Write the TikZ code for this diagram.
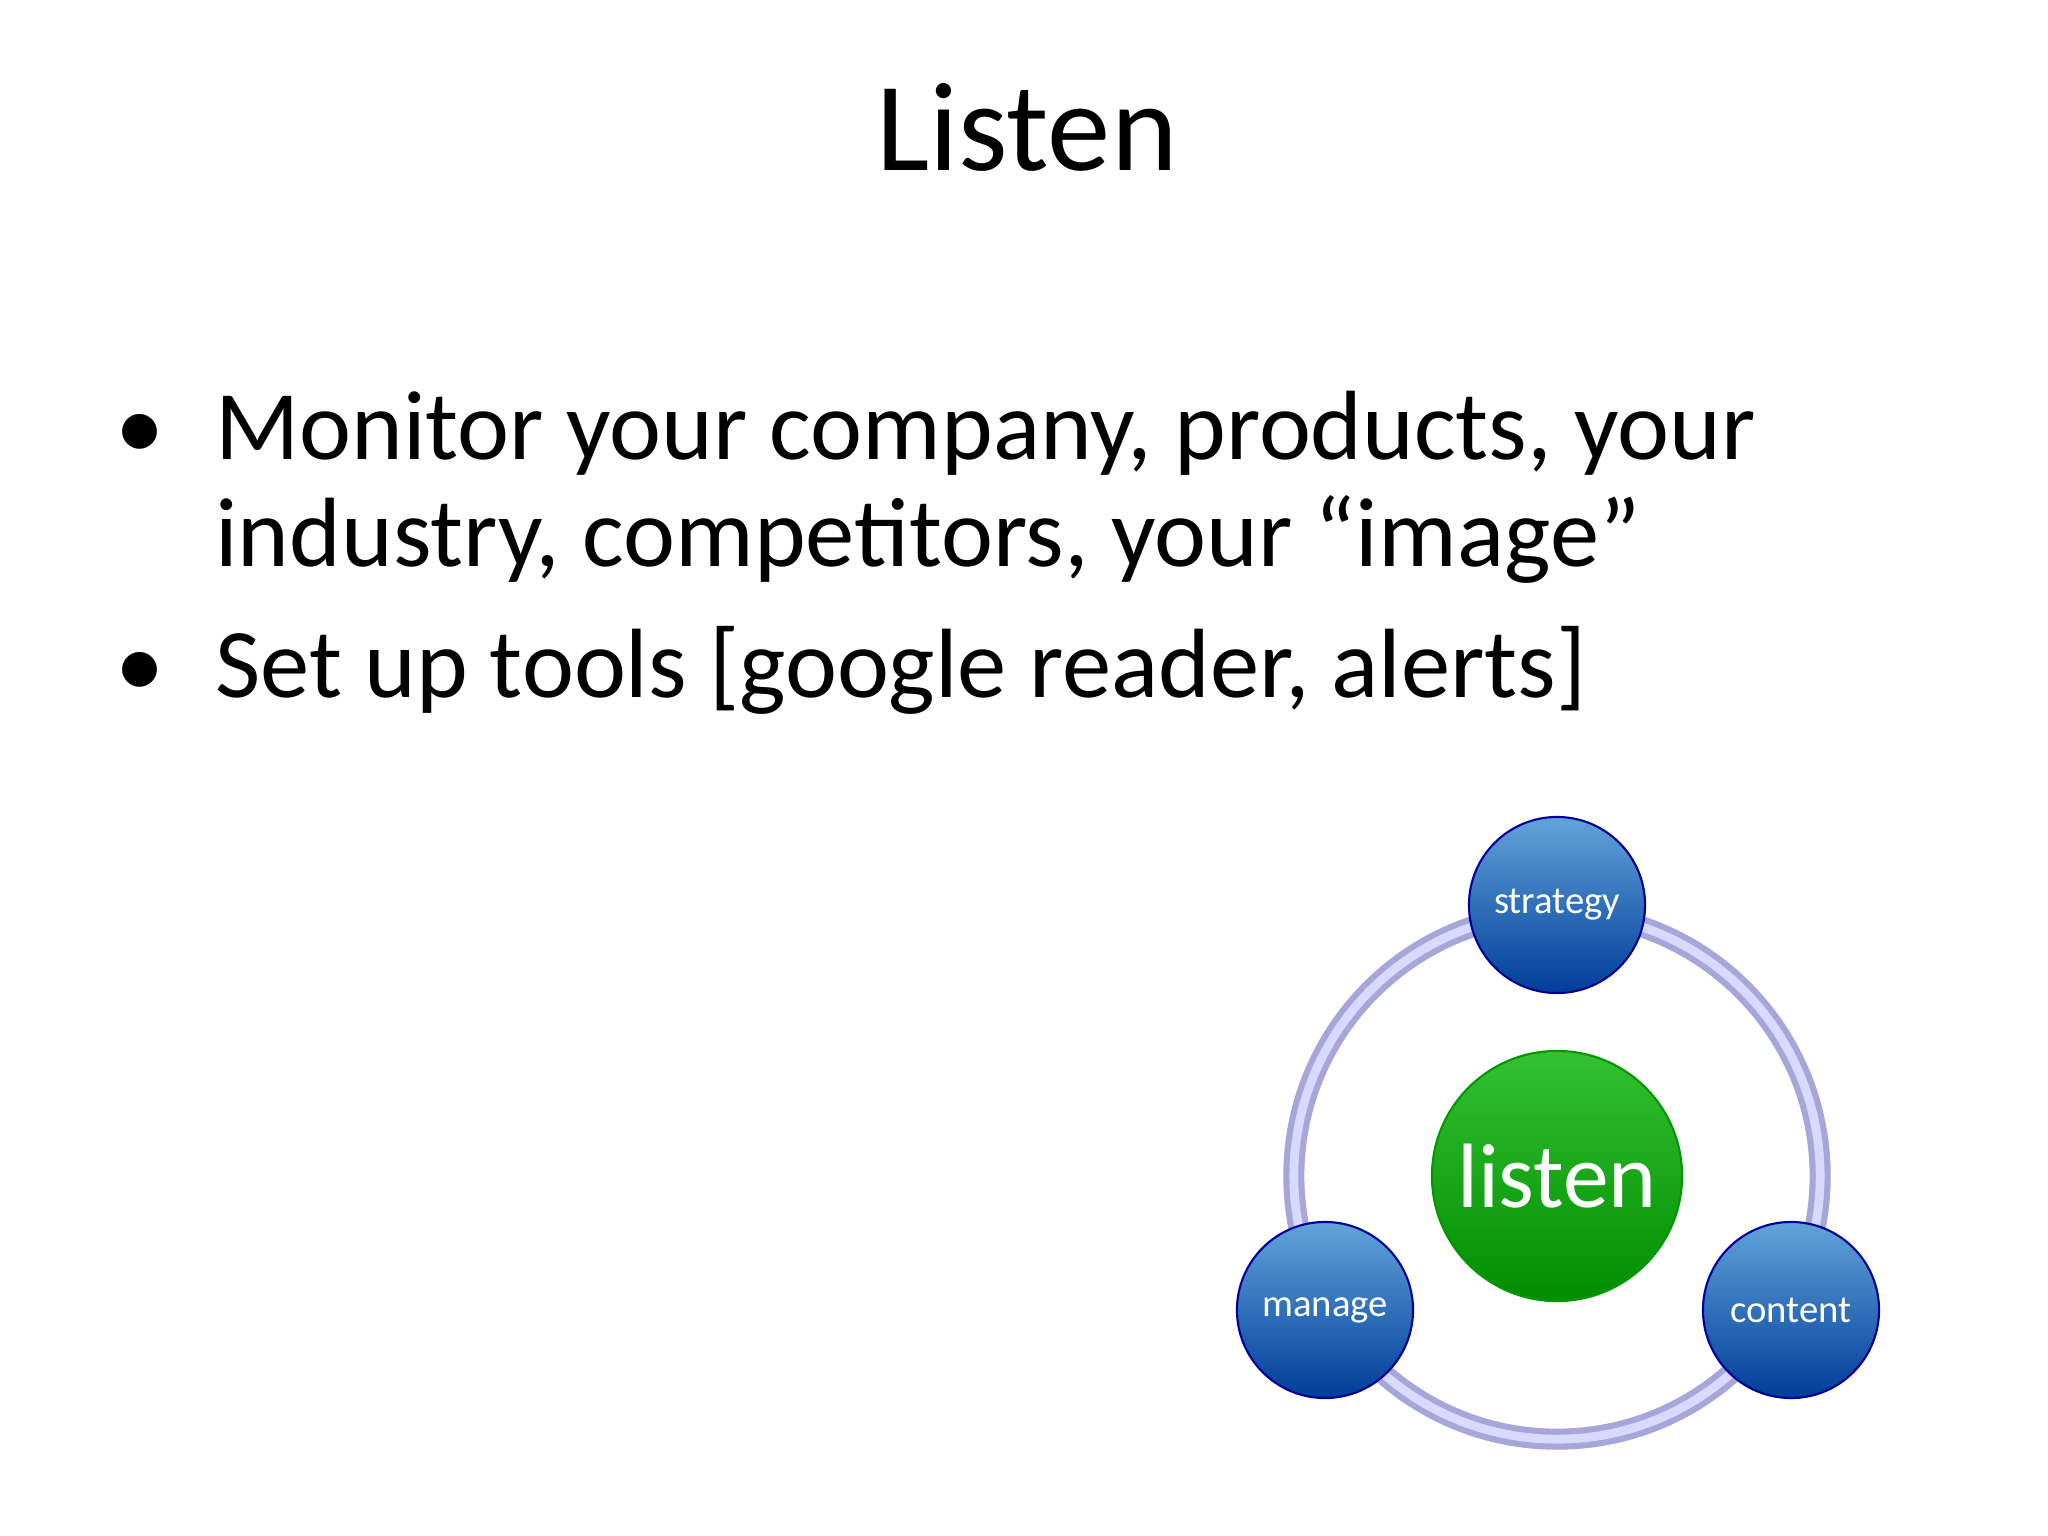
\documentclass[tikz,border=0pt]{standalone}
\usepackage{fontspec}
\setmainfont{Carlito}
\begin{document}
\begin{tikzpicture}[x=0.01cm,y=-0.01cm,
  blob/.style={circle,draw=#1!60!black,line width=0.6pt,text=white,inner sep=0pt},
  blue/.style={blob=blue,minimum size=1.76cm,top color=blue!45!cyan!55!white!85!black,bottom color=blue!60!cyan!60!black,font=\fontsize{11}{13}\selectfont},
  green/.style={blob=green,minimum size=2.5cm,top color=green!70!black!80,bottom color=green!55!black,font=\fontsize{26}{30}\selectfont}]
\useasboundingbox (0,0) rectangle (2048,1536);
\node (title) at (1027,127) {\fontsize{36}{40}\selectfont Listen};
\node[anchor=base west] (b1a) at (203,459) {\fontsize{28}{32}\selectfont Monitor your company, products, your};
\node[anchor=base west] (b1b) at (203,566) {\fontsize{28}{32}\selectfont industry, competitors, your “image”};
\node[anchor=base west] (b2) at (203,697) {\fontsize{28}{32}\selectfont Set up tools [google reader, alerts]};
\node[anchor=base] (d1) at (140,459) {\fontsize{28}{32}\selectfont •};
\node[anchor=base] (d2) at (140,697) {\fontsize{28}{32}\selectfont •};
\coordinate (c) at (1557,1176);
\draw[line width=6pt,color=gray!60!blue!50] (c) circle (2.63cm);
\draw[line width=2.5pt,color=white!85!blue] (c) circle (2.63cm);
\node[green] (listen) at (c) {listen};
\node[blue] (s) at (1557,905) {strategy};
\node[blue] (m) at (1325,1310) {manage};
\node[blue] (ct) at (1791,1310) {content};
\end{tikzpicture}
\end{document}
